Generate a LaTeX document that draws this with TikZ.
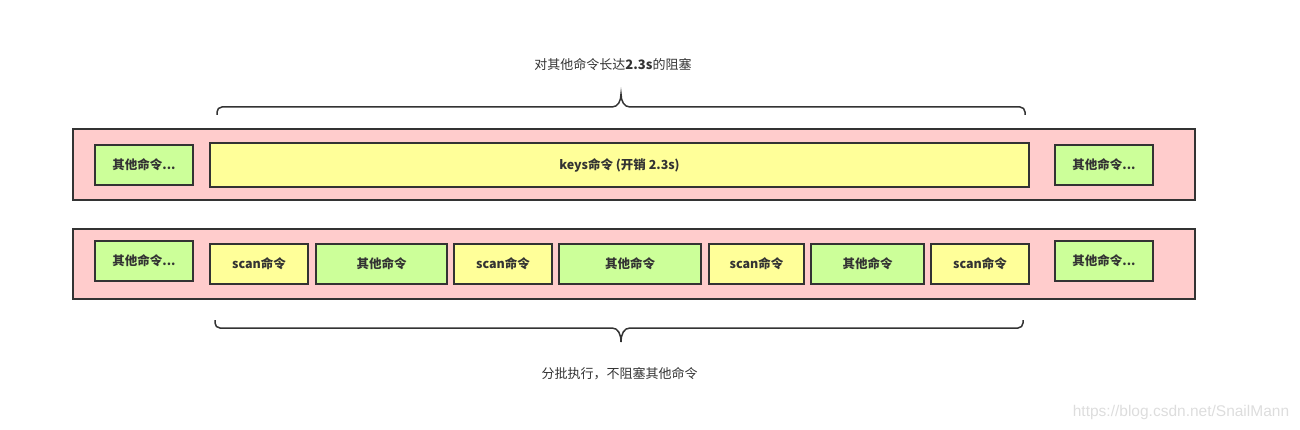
\documentclass[tikz,border=0pt]{standalone}
\usepackage{fontspec}
\setmainfont{Noto Sans CJK SC}
\newfontfamily\wmfont{Liberation Sans}
\definecolor{pinkbg}{HTML}{FFCCCC}
\definecolor{yel}{HTML}{FFFF99}
\definecolor{grn}{HTML}{CCFF99}
\definecolor{edge}{HTML}{333333}
\definecolor{wm}{HTML}{DDDDDD}
\begin{document}
\begin{tikzpicture}[x=1pt,y=-1pt,
  lane/.style={draw=edge,line width=1.5pt,fill=pinkbg,inner sep=0pt},
  cmd/.style={draw=edge,line width=1.5pt,inner sep=0pt,minimum height=40pt,font=\fontsize{12.5}{14}\selectfont\bfseries,text=edge},
  ycmd/.style={cmd,fill=yel},
  gcmd/.style={cmd,fill=grn},
  brace/.style={draw=edge,line width=1.5pt},
  lbl/.style={font=\fontsize{13}{15}\selectfont,text=edge}]
\useasboundingbox (0,0) rectangle (1300,430);
% lanes
\node[lane,minimum width=1122pt,minimum height=71pt] (lane1) at (634,164.5) {};
\node[lane,minimum width=1122pt,minimum height=70pt] (lane2) at (634,264) {};
% top row
\node[gcmd,minimum width=98pt] (a1) at (144,165) {其他命令...};
\node[ycmd,minimum width=819pt,minimum height=44pt] (keys) at (619.5,165) {keys命令 (开销 2.3s)};
\node[gcmd,minimum width=98pt] (a2) at (1104,165) {其他命令...};
% bottom row
\node[gcmd,minimum width=98pt] (b0) at (144,261) {其他命令...};
\node[ycmd,minimum width=98pt] (s1) at (259,264) {scan命令};
\node[gcmd,minimum width=131pt] (o1) at (381.5,264) {其他命令};
\node[ycmd,minimum width=98pt] (s2) at (503,264) {scan命令};
\node[gcmd,minimum width=142pt] (o2) at (630,264) {其他命令};
\node[ycmd,minimum width=95pt] (s3) at (756.5,264) {scan命令};
\node[gcmd,minimum width=113pt] (o3) at (867.5,264) {其他命令};
\node[ycmd,minimum width=98pt] (s4) at (980,264) {scan命令};
\node[gcmd,minimum width=98pt] (b5) at (1104,261) {其他命令...};
% braces
\draw[brace] (217,115) -- (217,112) arc[start angle=180,end angle=90,radius=5pt] -- (612,107)
  .. controls (618,107) and (621,101) .. (621,94)
  .. controls (621,101) and (624,107) .. (630,107) -- (1020,107)
  arc[start angle=90,end angle=0,radius=5pt] -- (1025,115);
\draw[brace] (215,320) -- (215,323) arc[start angle=180,end angle=270,radius=5pt] -- (612,328)
  .. controls (618,328) and (621,334) .. (621,342)
  .. controls (621,334) and (624,328) .. (630,328) -- (1018,328)
  arc[start angle=270,end angle=360,radius=5pt] -- (1023,320);
% labels
\node[lbl] (t1) at (613,65) {对其他命令长达\textbf{2.3s}的阻塞};
\node[lbl] (t2) at (619.5,374) {分批执行，不阻塞其他命令};
\node[font=\wmfont\fontsize{15.5}{17}\selectfont,text=wm] (wmk) at (1181,412) {https://blog.csdn.net/SnailMann};
\end{tikzpicture}
\end{document}
